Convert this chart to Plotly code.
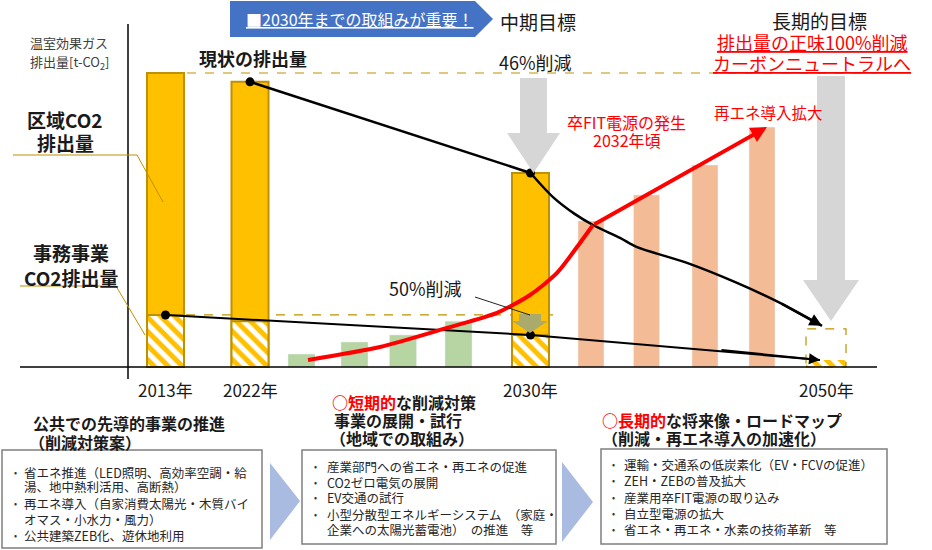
import plotly.graph_objects as go

W, H = 932, 550
FONT = "Noto Sans CJK JP, Noto Sans, sans-serif"

# ---- data (t-CO2, indexed so that the 2013 regional emission = 100) ----
year_labels = ["2013年", "2022年", "2030年", "2050年"]
region_co2 = [100, 97, 66, 13]
office_co2 = [17.7, 15.6, 10.9, 2.4]
renew_early = [4.4, 8.5, 10.9, 15.6]
renew_late = [49.7, 58.5, 68.7, 81.6]

# trend lines (x = horizontal position, y = t-CO2 index)
region_trend_x = [530.5, 553, 575, 593, 620, 637, 687, 737, 780, 822]
region_trend_y = [66, 57.8, 52.0, 48.3, 43.9, 40.8, 35.4, 28.6, 21.8, 14.0]
office_trend_x = [165.5, 530.5, 820]
office_trend_y = [17.7, 10.9, 2.4]
renew_trend_x = [308, 380, 447, 497, 530, 557, 580, 593]
renew_trend_y = [2.4, 6.8, 13.3, 18.4, 24.5, 32.0, 42.2, 48.3]

# ---- layout positions ----
gold_x = [165.5, 250, 530.5, 826]
green_x = [301.5, 354.5, 403, 458.5]
salmon_x = [591, 646.5, 705, 762]
BASE_PX, PX_PER_UNIT = 367, 2.94
y_range = [(BASE_PX - H) / PX_PER_UNIT, BASE_PX / PX_PER_UNIT]

GOLD, GOLD_DARK = "#ffc000", "#bf9000"
RED = "#ff0000"

fig = go.Figure()

# regional emission bars (solid)
fig.add_trace(go.Bar(
    x=gold_x[:3], y=region_co2[:3], width=37,
    marker=dict(color=GOLD, line=dict(color=GOLD_DARK, width=2)),
))
# office emission bars (hatched)
fig.add_trace(go.Bar(
    x=gold_x, y=office_co2, width=[37, 37, 37, 40],
    marker=dict(
        color="white",
        line=dict(color=[GOLD_DARK] * 3 + ["rgba(0,0,0,0)"], width=[2, 2, 2, 0]),
        pattern=dict(shape="\\", fgcolor=GOLD, bgcolor="white", fgopacity=1,
                     size=10, solidity=0.5),
    ),
))
fig.add_trace(go.Bar(x=green_x, y=renew_early, width=27, marker_color="#b7d5a3"))

# black trend lines
fig.add_trace(go.Scatter(x=[gold_x[1], gold_x[2]], y=[region_co2[1], region_co2[2]],
                         mode="lines", line=dict(color="black", width=2.5)))
fig.add_trace(go.Scatter(x=region_trend_x, y=region_trend_y, mode="lines",
                         line=dict(color="black", width=2.5, shape="spline", smoothing=0.8)))
fig.add_trace(go.Scatter(x=office_trend_x, y=office_trend_y, mode="lines",
                         line=dict(color="black", width=2)))

fig.add_trace(go.Bar(x=salmon_x, y=renew_late, width=26, marker_color="#f0a673", opacity=0.75))

fig.add_trace(go.Scatter(x=renew_trend_x, y=renew_trend_y, mode="lines",
                         line=dict(color=RED, width=4, shape="spline", smoothing=0.7)))

fig.add_trace(go.Scatter(
    x=[gold_x[1], gold_x[2], gold_x[0], gold_x[2]],
    y=[region_co2[1], region_co2[2], office_co2[0], office_co2[2]],
    mode="markers", marker=dict(color="black", size=9),
))

# arrowheads on trend lines
for tip_x, tip_y, tail_x, tail_y, col, w, sz in [
    (region_trend_x[-1], region_trend_y[-1], region_trend_x[-2], region_trend_y[-2], "black", 2.5, 1.0),
    (office_trend_x[-1], office_trend_y[-1], 720, 5.8, "black", 2, 1.1),
    (salmon_x[-1] + 5, renew_late[-1], renew_trend_x[-1], renew_trend_y[-1], RED, 4, 0.8),
]:
    fig.add_annotation(x=tip_x, y=tip_y, ax=tail_x, ay=tail_y, xref="x", yref="y",
                       axref="x", ayref="y", text="", showarrow=True, arrowhead=2,
                       arrowsize=sz, arrowwidth=w, arrowcolor=col)

# dashed reference lines and 2050 dashed box
fig.add_shape(type="line", xref="x", yref="y", x0=187, x1=877, y0=region_co2[0], y1=region_co2[0],
              line=dict(color="#d6b656", width=1.5, dash="dash"), layer="below")
fig.add_shape(type="line", xref="x", yref="y", x0=186, x1=553, y0=office_co2[0], y1=office_co2[0],
              line=dict(color=GOLD_DARK, width=1.2, dash="dash"), layer="below")
fig.add_shape(type="rect", xref="x", yref="y", x0=gold_x[3] - 20, x1=gold_x[3] + 20,
              y0=0, y1=region_co2[3], line=dict(color=GOLD_DARK, width=1.2, dash="dash"))


def px(x, y):
    return x / W, 1 - y / H


def path(points, fill, line=None):
    d = "M " + " L ".join("{:.5f},{:.5f}".format(*px(x, y)) for x, y in points) + " Z"
    fig.add_shape(type="path", xref="paper", yref="paper", path=d, fillcolor=fill,
                  line=dict(width=0) if line is None else line)


def seg(points, color="black", width=1):
    d = "M " + " L ".join("{:.5f},{:.5f}".format(*px(x, y)) for x, y in points)
    fig.add_shape(type="path", xref="paper", yref="paper", path=d,
                  line=dict(color=color, width=width))


def rect(x0, y0, x1, y1, color="#7f7f7f"):
    a, b = px(x0, y0)
    c, d = px(x1, y1)
    fig.add_shape(type="rect", xref="paper", yref="paper", x0=a, y0=b, x1=c, y1=d,
                  line=dict(color=color, width=1.5), fillcolor="white")


def txt(x, y, s, size, color="#1a1a1a", anchor="center"):
    a, b = px(x, y)
    fig.add_annotation(x=a, y=b, xref="paper", yref="paper", text=s, showarrow=False,
                       xanchor=anchor, yanchor="middle", borderpad=0,
                       font=dict(size=size, color=color, family=FONT))


# axes lines
seg([(128, 24), (128, 379)], "black", 1.5)
seg([(20, 367), (877, 367)], "black", 1.5)

# big gray arrows
path([(520, 78), (547, 78), (547, 133), (560, 133), (533.5, 173), (507, 133), (520, 133)], "#d6d6d6")
path([(817, 76), (845, 76), (845, 280), (859, 280), (831, 321), (803, 280), (817, 280)], "#d6d6d6")
# 50% reduction arrow
path([(519, 314), (541, 314), (541, 321), (548, 321), (530, 333), (512, 321), (519, 321)], "#a9aa6c")
seg([(475, 297), (530, 315)], "#222", 1)

# blue banner
path([(230, 1), (475, 1), (493, 19), (475, 37), (230, 37)], "#4472c4")
txt(360, 19, "<u>■2030年までの取組みが重要！</u>", 16, "white")

# leader lines for the left labels
seg([(13, 155), (137, 155), (163, 202)], GOLD_DARK, 1)
seg([(20, 286), (116, 286), (145, 335)], GOLD_DARK, 1)

# chart texts
txt(29, 43, "温室効果ガス", 13, "#404040", "left")
txt(29, 62, "排出量[t-CO<sub>2</sub>]", 13, "#404040", "left")
txt(65, 120, "<b>区域CO2</b>", 19)
txt(65, 142, "<b>排出量</b>", 19)
txt(71, 253, "<b>事務事業</b>", 19)
txt(71, 277, "<b>CO2排出量</b>", 19)
txt(253, 58, "<b>現状の排出量</b>", 18)
txt(538, 21, "中期目標", 19)
txt(535, 62, "46%削減", 18)
txt(819, 20, "長期的目標", 19)
txt(812, 42, "<u>排出量の正味100%削減</u>", 18, RED)
txt(812, 63, "<u>カーボンニュートラルへ</u>", 18, RED)
txt(626, 122, "卒FIT電源の発生", 16, RED)
txt(627, 140, "2032年頃", 16, RED)
txt(768, 112, "再エネ導入拡大", 15.5, RED)
txt(425, 288, "50%削減", 18)

for xc, lab in zip(gold_x, year_labels):
    fig.add_annotation(x=xc, y=1 - 389 / H, xref="x", yref="paper", text=lab, showarrow=False,
                       xanchor="center", yanchor="middle", borderpad=0,
                       font=dict(size=17, color="#1a1a1a", family=FONT))

# bottom boxes
rect(2, 450, 262, 548)
rect(302, 450, 556, 544)
rect(601, 449, 887, 544)
path([(270, 463), (300, 501), (270, 540)], "#a9bbe0")
path([(562, 462), (593, 502), (562, 542)], "#a9bbe0")

txt(32, 423, "<b>公共での先導的事業の推進</b>", 16, anchor="left")
txt(28, 442, "<b>（削減対策案）</b>", 16, anchor="left")
txt(331, 402, "<b><span style='color:#ff0000'>○短期的</span>な削減対策</b>", 16, anchor="left")
txt(333, 420, "<b>事業の展開・試行</b>", 16, anchor="left")
txt(329, 438, "<b>（地域での取組み）</b>", 16, anchor="left")
txt(601, 420, "<b><span style='color:#ff0000'>○長期的</span>な将来像・ロードマップ</b>", 16, anchor="left")
txt(601, 438, "<b>（削減・再エネ導入の加速化）</b>", 16, anchor="left")

box1 = [(472, True, "省エネ推進（LED照明、高効率空調・給"),
        (486, False, "湯、地中熱利活用、高断熱）"),
        (503, True, "再エネ導入（自家消費太陽光・木質バイ"),
        (519, False, "オマス・小水力・風力）"),
        (535, True, "公共建築ZEB化、遊休地利用")]
box2 = [(466, True, "産業部門への省エネ・再エネの促進"),
        (482, True, "CO2ゼロ電気の展開"),
        (498, True, "EV交通の試行"),
        (514, True, "小型分散型エネルギーシステム　（家庭・"),
        (529, False, "企業への太陽光蓄電池）　の推進　等")]
box3 = [(464, True, "運輸・交通系の低炭素化（EV・FCVの促進）"),
        (480, True, "ZEH・ZEBの普及拡大"),
        (497, True, "産業用卒FIT電源の取り込み"),
        (513, True, "自立型電源の拡大"),
        (529, True, "省エネ・再エネ・水素の技術革新　等")]
for bx, tx, lines in [(15, 23, box1), (315, 326, box2), (613, 623, box3)]:
    for y, bullet, s in lines:
        if bullet:
            txt(bx, y, "•", 9, "#333", "center")
        txt(tx, y, s, 12.5, "#262626", "left")

fig.update_layout(
    width=W, height=H, margin=dict(l=0, r=0, t=0, b=0),
    paper_bgcolor="white", plot_bgcolor="white",
    barmode="overlay", showlegend=False,
    xaxis=dict(range=[0, W], visible=False, fixedrange=True),
    yaxis=dict(range=y_range, visible=False, fixedrange=True),
    font=dict(family=FONT),
)

fig.write_html("out.html", config={"displayModeBar": False},
               post_script="document.body.style.margin='0px';")
